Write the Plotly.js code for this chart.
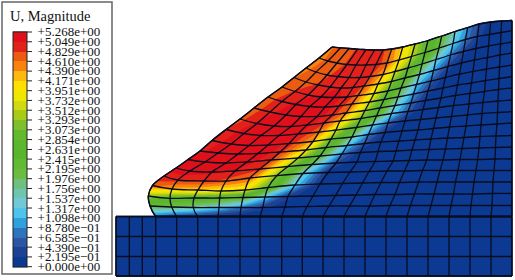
<!DOCTYPE html>
<html><head><meta charset="utf-8">
<script src="https://cdn.plot.ly/plotly-3.0.1.min.js"></script>
<style>html,body{margin:0;padding:0;background:#fff}#c{width:515px;height:280px}</style>
</head><body><div id="c"></div>
<script>
// Legend
const legendTitle = 'U, Magnitude';
const tickValues = [0,0.2195,0.4390,0.6585,0.8780,1.098,1.317,1.537,1.756,1.976,2.195,2.415,2.631,2.854,3.073,3.293,3.512,3.732,3.951,4.171,4.390,4.610,4.829,5.049,5.268];
const tickLabels = ['+0.000e+00','+2.195e\u221201','+4.390e\u221201','+6.585e\u221201','+8.780e\u221201','+1.098e+00','+1.317e+00','+1.537e+00','+1.756e+00','+1.976e+00','+2.195e+00','+2.415e+00','+2.631e+00','+2.854e+00','+3.073e+00','+3.293e+00','+3.512e+00','+3.732e+00','+3.951e+00','+4.171e+00','+4.390e+00','+4.610e+00','+4.829e+00','+5.049e+00','+5.268e+00'];
const bandColors = ['#0c3a93','#1c4296','#2a56a4','#2d74bc','#2fa2de','#4fc3ec','#6fc9d6','#6fc6b0','#6fc080','#6cbc42','#62ba34','#5ab52e','#5cb62e','#62b92e','#7dbf2c','#a8cc16','#d0d912','#eee800','#ffe000','#fdb90d','#f7830e','#eb5c10','#e2211a','#e0101a'];

// Foundation block
const baseColumns = [116,129.3,142.3,155.7,176.7,197.7,218,240,260,281.7,302.3,323,344,365,386,407,428,449,470,491,512];
const baseRows = [216.5,236.5,256.5,276];
const baseU = [[0,0,0,0,0,0,0,0,0,0,0,0,0,0,0,0,0,0,0,0],[0,0,0,0,0,0,0,0,0,0,0,0,0,0,0,0,0,0,0,0],[0,0,0,0,0,0,0,0,0,0,0,0,0,0,0,0,0,0,0,0]];

// Slope mesh nodes (rows run from the base up to the top surface)
const meshA = [0,1,2,3,4,5,6,7,8,9,10,11,12,13,14,15,16,17];
const meshB = [0,1,2,3,4,5,6,7,8,9,10,11,12,13,14,15,16,17];
const meshX = [
[155.7,176.7,197.7,218,240,260,281.7,302.3,323,344,365,386,407,428,449,470,491,512],
[150,171.7,193.3,219,241,262.7,285,307,329,349.5,369.5,390,410.5,431,451,471,492,512],
[148.3,170,194,219.7,243,265,288,313,335.5,356,375,395,414.5,434,453.5,472.5,492.5,512],
[152.5,172,198,221,245,268,295,320,342.5,362.5,381,399.5,418.5,437,455.5,474,493,512],
[164,178,204,226,250,277,303,328,350,369,387,404.5,422.5,440,458,476,494,512],
[176,190,212,235,260,288,312,336,357,375,393,409,426.7,443,460,477.7,495,512],
[188,205,226,247,271,298,320,342,360.5,378,396,412,429,445.5,462,479,495.5,512],
[200,218,238,258,280,306,326,347,364.5,381,399,415,431,447.5,464,480,496,512],
[212,231,249,268,289,313,331,352,368.5,385,402,418,433.5,449.5,466,481,497,512],
[226,244,261,279,298,319,336,356.5,372.5,388,405,420.5,436,451.5,467.5,482,497.5,512],
[240,257,274,291,307,324,340,361,376.5,391.5,408,423,438.5,453.5,469,483,498,512],
[254,270,286,301,317,332,346,365,380,395,411,425.5,441,455.5,470,484.5,498.5,512],
[268,282,296,310,325,339,352,369.5,384,398,413.5,428,443,457.5,471.5,485.5,499,512],
[282,295,308,321,334,347,358,374,388,401,416.5,431,445.5,459.5,473,486.5,499.5,512],
[294,306,318,330,341,353,364,378,391.5,405,419.5,433.5,448,461.5,474.5,487.5,500,512],
[306,316,327,338,349,360,370,383,395,408,422,436,450.5,463.5,476,488.5,500.5,512],
[319,328,337,347,356,366,376,387,399,411.5,425,439,453,465.5,477.5,489.5,501,512],
[332,340.5,349,357.6,366,374.7,383.2,391.7,402.7,415,428,441.7,455,467.7,479,490.7,501.7,512]];
const meshY = [
[216.5,216.5,216.5,216.5,216.5,216.5,216.5,216.5,216.5,216.5,216.5,216.5,216.5,216.5,216.5,216.5,216.5,216.5],
[206,207,207.5,207.5,207.5,207.5,207,206.5,206,206,206,205.5,205.5,205.5,205.5,205.5,205.5,205.5],
[196,198.3,198,198,197.5,197,196.5,196,195.5,195,194.5,194.5,194,194,194,194,193.5,193.5],
[185.5,189,190,191,190,187.5,185,184,183.5,183,182.5,182.5,182,182,182,182,182,182],
[176,180,181,181,178,175.5,173.5,172.5,172,171.5,171,171,170.5,170.5,170.5,170.5,170.5,170.5],
[168,171,172,171,169,166.5,164.5,163,162,161.5,161,160.5,160,160,159.5,159.5,159,159],
[159.5,162,163,162,160,158,156,154,152.5,151.5,151,150,149.5,149,148.5,148,147.5,147],
[151,153,154,153.5,152,150,147.5,145.5,143.5,142,141,140,139,138,137.5,136.5,136,135.5],
[140.5,144,145.5,145,143.5,141.5,139,137,134.5,132.5,131,130,128.5,127,126,125,124,123],
[129.5,133.5,135.5,135.5,134,132,130,127.5,125,123,121,119.5,118,116.5,115,113.5,112.5,111.7],
[119,123.5,126,126.5,125,123,121,118.5,116,113.5,111.5,109.5,107.5,105.5,104,102.5,101,100],
[108,112,115,116.5,116.5,115,113,110.5,108,105.5,103,100.5,98,95.5,93.5,91.5,89.5,88],
[97,101.5,104.5,106.5,107,106,104,102,99.5,97,94,91,88,85,83,80.5,78.5,76.7],
[87,91.5,95,97,97.5,97,95.5,93.5,91,88,84.5,81,77.5,74,71.5,69,67,65],
[77.5,82,85,87,88,87.5,86,84,81.5,78,74.5,70.5,66.5,63,60,57.5,55,53],
[68,72,75,76.5,77.5,77.5,76.5,74.5,71.5,68,64,59.5,55,51.5,48.5,46,44,42],
[58,61,63,64.5,65,65,64.5,63,60,56.5,52.5,48,43.5,39.5,36.5,34.5,32.5,30.7],
[47,47.8,48.5,49.2,49.6,50,49.8,49,47,44,40.5,36,31.5,27.5,24,22,21,20.5]];
const meshU = [
[0.7,0.4,0.25,0.1,0,0,0,0,0,0,0,0,0,0,0,0,0,0],
[2.2,2,1.7,1.3,0.8,0.3,0.05,0,0,0,0,0,0,0,0,0,0,0],
[3.3,2.8,2.8,2.6,2.4,1.3,0.3,0.02,0,0,0,0,0,0,0,0,0,0],
[4.7,4.3,4.2,3.95,3.85,3,1.3,0.1,0,0,0,0,0,0,0,0,0,0],
[5,4.95,4.9,4.75,4.7,3.25,1.5,0.15,0,0,0,0,0,0,0,0,0,0],
[5.1,5.15,5.1,5.05,4.85,3.35,1.9,0.45,0,0,0,0,0,0,0,0,0,0],
[5.1,5.2,5.2,5.15,4.9,3.6,2.3,0.85,0.08,0,0,0,0,0,0,0,0,0],
[5,5.2,5.2,5.2,4.95,3.95,2.75,1.25,0.5,0,0,0,0,0,0,0,0,0],
[4.9,5.2,5.2,5.2,5,4.3,3.15,1.8,0.85,0.2,0,0,0,0,0,0,0,0],
[4.85,5.2,5.2,5.2,5.1,4.6,3.7,2.55,1.45,0.7,0.08,0,0,0,0,0,0,0],
[4.75,5.1,5.2,5.2,5.1,4.9,4.25,3.15,2.4,1.4,0.55,0.03,0,0,0,0,0,0],
[4.7,5,5.15,5.2,5.15,4.95,4.55,3.45,2.6,1.5,0.7,0.08,0,0,0,0,0,0],
[4.7,4.95,5.1,5.15,5.15,4.95,4.65,3.65,2.8,1.9,0.95,0.35,0,0,0,0,0,0],
[4.65,4.85,5,5.1,5.1,5,4.7,3.8,3,2.3,1.2,0.6,0.08,0,0,0,0,0],
[4.6,4.75,4.85,4.95,5.05,5,4.8,4.1,3.3,2.55,1.7,1,0.4,0.03,0,0,0,0],
[4.55,4.7,4.8,4.9,5,4.95,4.85,4.3,3.7,3.05,2.3,1.45,0.85,0.35,0.03,0,0,0],
[4.55,4.65,4.75,4.85,4.9,4.95,4.95,4.7,4.1,3.55,2.85,2.2,1.3,0.8,0.35,0.03,0,0],
[4.6,4.65,4.75,4.85,4.95,4.95,4.9,4.55,4.1,3.5,2.8,2.2,1.6,0.85,0.4,0.12,0.03,0]];

const uMax = 5.268, bandSize = uMax/24;
const nBands = bandColors.length;
const scale = bandColors.map((c,i)=>[i/(nBands-1),c]);
const W=515,H=280, gridColor='#080c1e';
const barBottom=266.7, barLen=234.7, barLeft=13, barW=14;
const axisBase = {tickmode:'linear',tick0:0,dtick:1,minorgridcount:0,showticklabels:'none',
  gridcolor:gridColor,gridwidth:1.3,startline:true,endline:true,startlinecolor:gridColor,endlinecolor:gridColor,startlinewidth:1.3,endlinewidth:1.3,title:{text:''}};
const baseAxis = Object.assign({},axisBase,{smoothing:0});
const meshAxis = Object.assign({},axisBase,{smoothing:1});

const baseNodeX = baseRows.map(()=>baseColumns);
const baseNodeY = baseRows.map(r=>baseColumns.map(()=>r));

const traces = [
 {type:'heatmap',x:baseColumns,y:baseRows,z:baseU,zmin:0,zmax:uMax,colorscale:[[0,bandColors[0]],[1,bandColors[0]]],showscale:false,hoverinfo:'skip'},
 {type:'carpet',carpet:'base',a:baseColumns.map((_,i)=>i),b:baseRows.map((_,i)=>i),x:baseNodeX,y:baseNodeY,aaxis:baseAxis,baxis:baseAxis,hoverinfo:'skip'},
 {type:'contourcarpet',carpet:'slope',a:meshA,b:meshB,z:meshU,autocontour:false,zauto:false,zmin:0,zmax:uMax,
  contours:{start:bandSize,end:uMax-bandSize,size:bandSize,coloring:'fill',showlines:false},
  line:{width:0,smoothing:0},colorscale:scale,hoverinfo:'skip',
  colorbar:{thicknessmode:'pixels',thickness:barW,lenmode:'pixels',len:barLen,x:barLeft/W,xanchor:'left',xpad:0,y:(H-barBottom)/H,yanchor:'bottom',ypad:0,
    tickmode:'array',tickvals:tickValues,ticktext:tickLabels,ticks:'outside',ticklen:8,tickwidth:1,tickcolor:'rgba(0,0,0,0)',
    tickfont:{family:'"Liberation Serif"',size:13,color:'#111'},outlinecolor:'#222',outlinewidth:1,borderwidth:0,bgcolor:'rgba(0,0,0,0)'}},
 {type:'carpet',carpet:'slope',a:meshA,b:meshB,x:meshX,y:meshY,aaxis:meshAxis,baxis:meshAxis,hoverinfo:'skip'}
];

const shapes = [{type:'rect',xref:'x',yref:'y',x0:2,y0:2,x1:112,y1:274,line:{color:'#666',width:1.5},layer:'below',fillcolor:'#fff'}]
 .concat(tickValues.map(v=>{const py=barBottom-barLen*v/uMax;return {type:'line',xref:'x',yref:'y',x0:barLeft,x1:barLeft+barW+5,y0:py,y1:py,line:{color:'#222',width:1},layer:'above'};}));

const hidden = {visible:false,fixedrange:true};
const layout = {width:W,height:H,margin:{l:0,r:0,t:0,b:0,pad:0,autoexpand:false},paper_bgcolor:'#fff',plot_bgcolor:'#fff',showlegend:false,
 xaxis:Object.assign({range:[0,W]},hidden),yaxis:Object.assign({range:[H,0]},hidden),shapes,
 annotations:[{xref:'x',yref:'y',x:8,y:16,xanchor:'left',yanchor:'middle',showarrow:false,text:legendTitle,font:{family:'"Liberation Serif"',size:14.5,color:'#111'}}]};
Plotly.newPlot('c',traces,layout,{staticPlot:true,displayModeBar:false});
</script></body></html>
